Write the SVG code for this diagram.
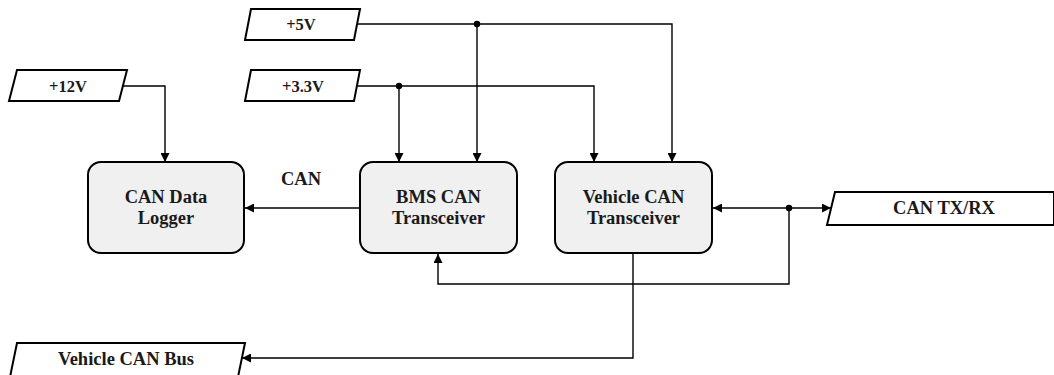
<svg xmlns="http://www.w3.org/2000/svg" width="1054" height="375" viewBox="0 0 1054 375">
  <style>
    .box { fill: #f0f0f0; stroke: #000; stroke-width: 2; }
    .io { fill: #fff; stroke: #000; stroke-width: 2; }
    .lbl { font-family: "Liberation Serif", "Times New Roman", serif; font-weight: bold; font-size: 18.5px; fill: #1a1a1a; text-anchor: middle; }
    .pwr { font-size: 16.5px; }
    .wire { fill: none; stroke: #000; stroke-width: 1.4; }
    .dot { fill: #000; }
  </style>
  <defs>
    <marker id="arrow" viewBox="0 0 10 10" refX="10" refY="5" markerWidth="9" markerHeight="9" markerUnits="userSpaceOnUse" orient="auto-start-reverse">
      <path d="M0,0 L10,5 L0,10 z" fill="#000"/>
    </marker>
  </defs>

  <!-- power inputs -->
  <g id="in-5v">
    <polygon class="io" points="251,9 360,9 354,40 245,40"/>
    <text class="lbl pwr" x="301" y="30">+5V</text>
  </g>
  <g id="in-3v3">
    <polygon class="io" points="251,70 360,70 354,101 245,101"/>
    <text class="lbl pwr" x="303" y="92">+3.3V</text>
  </g>
  <g id="in-12v">
    <polygon class="io" points="17,70 127,70 119,101 9,101"/>
    <text class="lbl pwr" x="68" y="92">+12V</text>
  </g>

  <!-- function blocks -->
  <g id="can-logger">
    <rect class="box" x="88" y="162" width="156" height="91" rx="13"/>
    <text class="lbl" x="166" y="203">CAN Data</text>
    <text class="lbl" x="166" y="224">Logger</text>
  </g>
  <g id="bms-can">
    <rect class="box" x="360" y="162" width="157" height="91" rx="13"/>
    <text class="lbl" x="438.5" y="203">BMS CAN</text>
    <text class="lbl" x="438.5" y="224">Transceiver</text>
  </g>
  <g id="vehicle-can">
    <rect class="box" x="555" y="162" width="157" height="91" rx="13"/>
    <text class="lbl" x="633.5" y="203">Vehicle CAN</text>
    <text class="lbl" x="633.5" y="224">Transceiver</text>
  </g>

  <!-- external ports -->
  <g id="can-txrx">
    <polygon class="io" points="835,192 1054,192 1054,225 827,225"/>
    <text class="lbl" x="944" y="214">CAN TX/RX</text>
  </g>
  <g id="vehicle-bus">
    <polygon class="io" points="17,343 245,343 238,377 10,377"/>
    <text class="lbl" x="126" y="365">Vehicle CAN Bus</text>
  </g>

  <!-- connectors -->
  <g id="connectors">
    <path class="wire" d="M122,86 H165 V162" marker-end="url(#arrow)"/>
    <path class="wire" d="M357,24 H672 V162" marker-end="url(#arrow)"/>
    <path class="wire" d="M477,24 V162" marker-end="url(#arrow)"/>
    <path class="wire" d="M357,86 H594 V162" marker-end="url(#arrow)"/>
    <path class="wire" d="M399,86 V162" marker-end="url(#arrow)"/>
    <path class="wire" d="M360,208 H245" marker-end="url(#arrow)"/>
    <path class="wire" d="M789,208 H713" marker-end="url(#arrow)"/>
    <path class="wire" d="M789,208 H831" marker-end="url(#arrow)"/>
    <path class="wire" d="M789,208 V284 H438 V254" marker-end="url(#arrow)"/>
    <path class="wire" d="M633,253 V358 H242" marker-end="url(#arrow)"/>
    <text class="lbl" x="301" y="185">CAN</text>
    <circle class="dot" cx="477" cy="24" r="3.2"/>
    <circle class="dot" cx="399" cy="86" r="3.2"/>
    <circle class="dot" cx="789" cy="208" r="3.2"/>
  </g>
</svg>
